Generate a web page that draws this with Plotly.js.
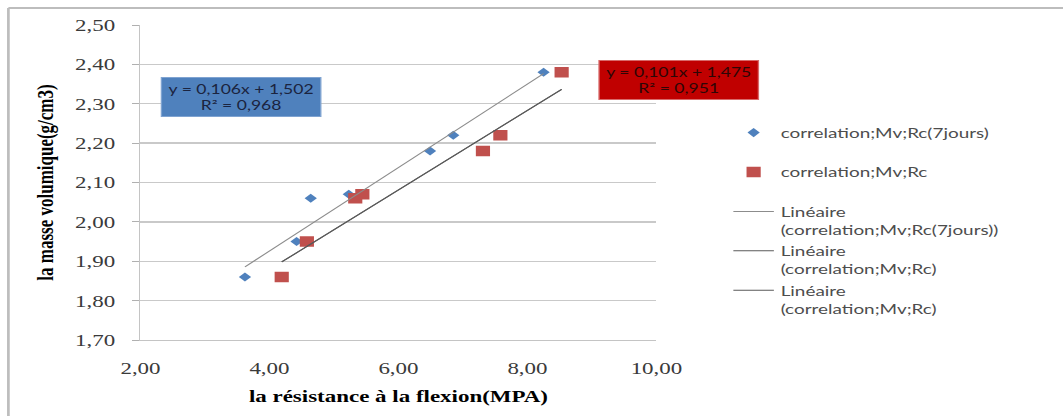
<!DOCTYPE html>
<html>
<head>
<meta charset="utf-8">
<script src="https://cdn.plot.ly/plotly-3.0.1.min.js"></script>
<style>
  html, body { margin: 0; padding: 0; background: #ffffff; overflow: hidden; }
  #wrap { width: 1063px; height: 416px; overflow: hidden; }
  /* the chart is laid out narrow and widened horizontally */
  #chart { width: 787px; height: 416px; transform: scaleX(1.3507); transform-origin: 0 0; }
</style>
</head>
<body>
<div id="wrap"><div id="chart"></div></div>
<script>
// Flexural strength (MPa) against bulk density (g/cm3)
const flexion7j = [3.62, 4.64, 4.42, 5.23, 6.49, 6.85, 8.25];
const masse7j   = [1.86, 2.06, 1.95, 2.07, 2.18, 2.22, 2.38];
const flexionRc = [4.19, 4.58, 5.33, 5.44, 7.31, 7.58, 8.53];
const masseRc   = [1.86, 1.95, 2.06, 2.07, 2.18, 2.22, 2.38];

// linear trend equations as printed in the boxes
const pente      = [0.106, 0.101];
const ordonnee   = [1.502, 1.475];
const r2         = [0.968, 0.951];

const nomSeries  = ['correlation;Mv;Rc(7jours)', 'correlation;Mv;Rc'];
const xTicks     = [2, 4, 6, 8, 10];
const xTickText  = ['2,00', '4,00', '6,00', '8,00', '10,00'];
const yTicks     = [1.7, 1.8, 1.9, 2.0, 2.1, 2.2, 2.3, 2.4, 2.5];
const yTickText  = ['1,70', '1,80', '1,90', '2,00', '2,10', '2,20', '2,30', '2,40', '2,50'];

const fr = v => v.toFixed(3).replace('.', ',');

function tendance(xs, i) {
  const x0 = Math.min(...xs), x1 = Math.max(...xs);
  return { x: [x0, x1], y: [pente[i] * x0 + ordonnee[i], pente[i] * x1 + ordonnee[i]] };
}
const t7 = tendance(flexion7j, 0);
const tRc = tendance(flexionRc, 1);

const pad = '<br>\u00a0';
const traces = [
  { x: flexion7j, y: masse7j, type: 'scatter', mode: 'markers', name: nomSeries[0] + pad,
    legendgroup: 'a', marker: { symbol: 'diamond', size: 7, color: '#4F81BD' } },
  { x: flexionRc, y: masseRc, type: 'scatter', mode: 'markers', name: nomSeries[1] + pad,
    legendgroup: 'b', marker: { symbol: 'square', size: 10.5, color: '#C0504D' } },
  { x: t7.x, y: t7.y, type: 'scatter', mode: 'lines', name: 'Linéaire<br>(' + nomSeries[0] + ')',
    legendgroup: 'c', line: { color: '#8c8c8c', width: 1 } },
  { x: tRc.x, y: tRc.y, type: 'scatter', mode: 'lines', name: 'Linéaire<br>(' + nomSeries[1] + ')',
    legendgroup: 'd', line: { color: '#5a5a5a', width: 1 } },
  { x: tRc.x, y: tRc.y, type: 'scatter', mode: 'lines', name: 'Linéaire<br>(' + nomSeries[1] + ')',
    legendgroup: 'e', line: { color: '#5a5a5a', width: 1 } }
];

const serif = 'Liberation Serif, Times New Roman, serif';
const sans = 'Lato, Carlito, Calibri, sans-serif';

const layout = {
  width: 787, height: 416,
  margin: { l: 104, r: 301, t: 25, b: 76 },
  paper_bgcolor: '#ffffff', plot_bgcolor: '#ffffff',
  showlegend: true,
  xaxis: {
    range: [2, 10], tickvals: xTicks, ticktext: xTickText,
    showgrid: false, zeroline: false, ticks: '', ticklabelstandoff: 12,
    showline: true, linecolor: '#c4c4c4', linewidth: 1.3,
    tickfont: { family: serif, size: 17, color: '#3a3a3a' },
    title: { text: 'la résistance à la flexion(MPA)', standoff: 13,
             font: { family: serif, size: 17, color: '#000000', weight: 'bold' } },
    fixedrange: true
  },
  yaxis: {
    range: [1.7, 2.5], tickvals: yTicks, ticktext: yTickText,
    showgrid: true, gridcolor: '#c9c9c9', gridwidth: 1.3, zeroline: false,
    ticks: 'outside', ticklen: 5, tickcolor: '#b0b0b0', ticklabelstandoff: 9,
    showline: true, linecolor: '#c4c4c4', linewidth: 1.3,
    tickfont: { family: serif, size: 17, color: '#3a3a3a' },
    title: { text: 'la masse volumique(g/cm3)', standoff: 11,
             font: { family: serif, size: 17, color: '#000000', weight: 'bold' } },
    fixedrange: true
  },
  legend: {
    x: 1.136, xanchor: 'left', y: 0.708, yanchor: 'top',
    traceorder: 'grouped', tracegroupgap: 0, valign: 'top',
    bgcolor: 'rgba(0,0,0,0)', borderwidth: 0,
    font: { family: sans, size: 14, color: '#4d4d4d' }
  },
  annotations: [
    { xref: 'paper', yref: 'paper', x: 0.196, y: 0.770, xanchor: 'center', yanchor: 'middle',
      text: 'y = ' + fr(pente[0]) + 'x + ' + fr(ordonnee[0]) + '<br>R² = ' + fr(r2[0]),
      showarrow: false, align: 'center', width: 117, height: 38, borderpad: 0,
      bgcolor: '#4F81BD', bordercolor: '#7fa3d1', borderwidth: 1,
      font: { family: sans, size: 13, color: '#1b2440' } },
    { xref: 'paper', yref: 'paper', x: 1.0427, y: 0.824, xanchor: 'center', yanchor: 'middle',
      text: 'y = ' + fr(pente[1]) + 'x + ' + fr(ordonnee[1]) + '<br>R² = ' + fr(r2[1]),
      showarrow: false, align: 'center', width: 117, height: 38, borderpad: 0,
      bgcolor: '#C00000', bordercolor: '#d86a6a', borderwidth: 1,
      font: { family: sans, size: 13, color: '#2e0606' } }
  ],
  shapes: [
    // outer chart frame (top and left edges)
    { type: 'line', xref: 'paper', yref: 'paper', x0: -0.256, x1: 1.8, y0: 1.054, y1: 1.054,
      line: { color: '#bdbdbd', width: 2 } },
    { type: 'line', xref: 'paper', yref: 'paper', x0: -0.256, x1: -0.256, y0: 1.054, y1: -0.3,
      line: { color: '#bdbdbd', width: 2 } }
  ]
};

Plotly.newPlot('chart', traces, layout, { staticPlot: true, displayModeBar: false });
</script>
</body>
</html>
